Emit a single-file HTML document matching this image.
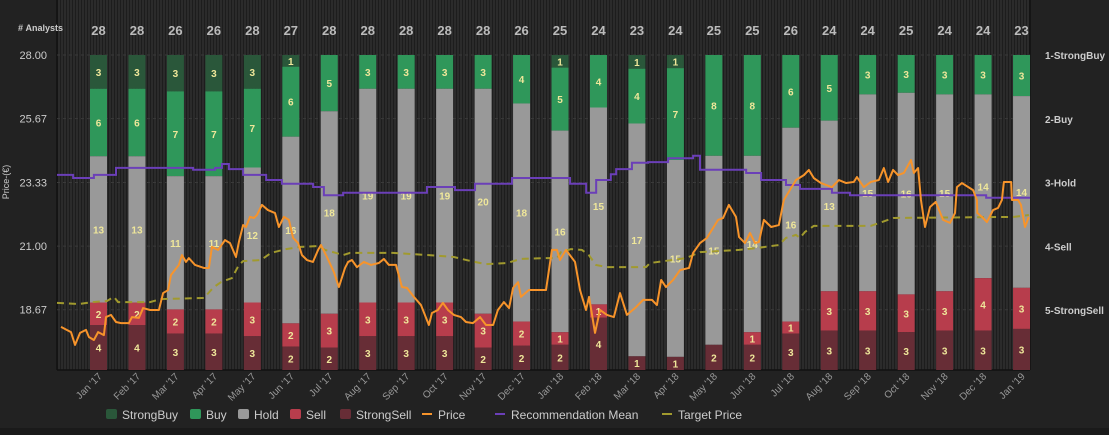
<!DOCTYPE html>
<html><head><meta charset="utf-8"><style>
html,body{margin:0;padding:0;background:#222;}
svg{display:block;font-family:"Liberation Sans",sans-serif;}
</style></head><body>
<svg id="chart" width="1109" height="435" viewBox="0 0 1109 435" xmlns="http://www.w3.org/2000/svg">
<defs>
<pattern id="stripes" width="3" height="10" patternUnits="userSpaceOnUse">
<rect width="3" height="10" fill="#2b2b2b"/><rect width="1" height="10" fill="#1d1d1d"/>
</pattern>
</defs>
<rect width="1109" height="435" fill="#222"/>
<rect x="0" y="428" width="1109" height="7" fill="#1a1a1a"/>
<rect x="57" y="0" width="973" height="370" fill="url(#stripes)"/>
<line x1="57" y1="0" x2="57" y2="370" stroke="#111" stroke-width="1.5"/>
<line x1="1030" y1="0" x2="1030" y2="370" stroke="#111" stroke-width="1.5"/>
<line x1="57" y1="370" x2="1030" y2="370" stroke="#111" stroke-width="1.5"/>
<text x="18" y="31" fill="#ccc" font-size="9" font-weight="bold">#&#160;Analysts</text>
<text transform="translate(9,182) rotate(-90)" text-anchor="middle" fill="#ccc" font-size="9">Price-(€)</text>
<g id="grid"></g><g id="bars"></g><g id="lines"></g><g id="axes"></g><g id="legend"></g>
</svg>
<script>
const months=["Jan '17","Feb '17","Mar '17","Apr '17","May '17","Jun '17","Jul '17","Aug '17","Sep '17","Oct '17","Nov '17","Dec '17","Jan '18","Feb '18","Mar '18","Apr '18","May '18","Jun '18","Jul '18","Aug '18","Sep '18","Oct '18","Nov '18","Dec '18","Jan '19"];
const strongBuy=[3,3,3,3,3,1,0,0,0,0,0,0,1,0,1,1,0,0,0,0,0,0,0,0,0];
const buy=[6,6,7,7,7,6,5,3,3,3,3,4,5,4,4,7,8,8,6,5,3,3,3,3,3];
const hold=[13,13,11,11,12,16,18,19,19,19,20,18,16,15,17,15,15,14,16,13,15,16,15,14,14];
const sell=[2,2,2,2,3,2,3,3,3,3,3,2,1,1,0,0,0,1,1,3,3,3,3,4,3];
const strongSell=[4,4,3,3,3,2,2,3,3,3,2,2,2,4,1,1,2,2,3,3,3,3,3,3,3];
const priceTicks=[28.00,25.67,23.33,21.00,18.67];
const recTicks=["1-StrongBuy","2-Buy","3-Hold","4-Sell","5-StrongSell"];
const priceT=[-0.975,-0.715,-0.61,-0.48,-0.325,-0.25,-0.12,-0.01,0.14,0.195,0.325,0.455,0.585,0.79,0.87,1.05,1.16,1.34,1.57,1.68,1.81,1.885,2.09,2.17,2.275,2.35,2.51,2.74,2.87,2.95,3.11,3.29,3.42,3.575,3.65,3.76,3.835,3.94,4.04,4.12,4.25,4.405,4.59,4.69,4.82,4.95,5.06,5.19,5.29,5.42,5.575,5.71,5.785,5.94,6.12,6.25,6.41,6.49,6.59,6.72,6.9,7.085,7.29,7.42,7.55,7.735,7.89,8.02,8.2,8.385,8.59,8.67,8.825,8.955,9.085,9.24,9.425,9.555,9.735,9.92,10.075,10.26,10.385,10.54,10.675,10.78,10.91,10.985,11.19,11.635,11.79,11.92,12.0,12.155,12.39,12.52,12.675,12.755,12.91,13.04,13.22,13.4,13.56,13.74,13.98,14.16,14.39,14.52,14.63,14.755,14.94,15.12,15.355,15.46,15.64,15.82,16.11,16.24,16.39,16.575,16.655,16.81,16.94,17.07,17.17,17.3,17.49,17.69,17.82,18.135,18.34,18.47,18.6,18.785,19.07,19.25,19.44,19.64,19.72,19.9,20.08,20.29,20.42,20.53,20.66,20.79,20.94,21.125,21.2,21.31,21.385,21.49,21.62,21.77,21.96,22.14,22.27,22.32,22.45,22.74,22.84,22.85,22.97,23.1,23.26,23.39,23.49,23.54,23.73,23.75,23.91,23.985,24.09,24.19];
const priceV=[18.04,17.85,17.38,17.82,17.93,17.67,17.56,17.85,17.74,18.40,18.48,18.22,18.18,18.18,18.40,18.37,18.73,18.66,18.66,19.28,19.39,19.94,20.31,20.67,20.42,20.56,20.31,20.20,20.20,20.97,20.86,21.22,21.11,20.60,21.15,21.77,21.70,22.07,22.03,22.14,22.51,22.32,22.21,21.70,22.07,21.96,21.30,21.11,20.67,20.49,20.42,20.86,21.04,20.60,20.05,19.50,20.20,20.42,20.49,20.23,20.42,20.31,20.38,20.53,20.31,20.31,19.50,19.47,19.14,18.84,18.11,18.55,18.66,18.92,18.66,18.48,18.40,18.22,18.18,18.40,18.11,18.11,18.66,18.95,18.73,19.47,19.68,19.14,19.39,19.39,20.86,20.86,20.49,20.86,20.42,19.39,18.66,19.14,17.82,18.66,18.48,18.40,19.28,18.48,18.77,19.03,19.03,18.84,19.76,19.50,19.76,20.12,20.20,20.75,21.11,21.30,21.96,22.03,22.51,22.07,21.33,21.11,21.48,21.11,21.15,21.96,21.70,21.77,22.69,23.42,23.60,23.79,23.49,23.31,23.16,23.42,23.31,23.35,23.53,23.16,23.35,23.42,23.86,23.35,23.79,23.60,23.68,24.15,23.68,23.86,22.69,21.70,22.43,22.62,21.96,21.85,22.21,23.16,23.31,23.05,22.69,22.21,22.07,21.88,22.32,22.40,22.69,23.35,23.35,22.69,22.69,22.51,21.70,22.07];
const targetT=[-1.08,-0.51,-0.14,0.22,0.40,0.51,1.34,1.625,2.74,3.0,3.185,3.47,3.65,3.76,4.225,4.485,4.875,5.24,5.71,5.89,6.175,6.36,6.54,7.66,8.59,9.24,9.685,10.075,10.62,10.985,11.555,11.92,12.025,12.285,12.57,12.75,12.935,13.22,14.235,14.34,15.275,15.64,16.655,17.12,17.69,17.875,18.135,18.24,18.37,18.6,20.08,20.37,20.66,23.8,24.19];
const targetV=[18.92,18.88,18.95,18.99,19.14,18.95,18.95,19.06,19.10,19.50,19.68,19.83,20.31,20.45,20.49,20.75,20.89,20.97,21.00,20.86,20.75,20.67,20.75,20.75,20.67,20.60,20.45,20.34,20.38,20.53,20.56,20.56,20.78,20.89,20.86,20.67,20.31,20.23,20.23,20.38,20.56,20.78,20.86,20.93,21.04,21.30,21.41,21.30,21.52,21.74,21.74,21.88,22.03,22.07,22.14];
const recT=[-1.08,-0.66,-0.12,0.455,2.46,3.03,3.21,3.39,3.76,4.36,4.77,5.58,5.86,6.36,8.54,9.27,9.79,10.75,12.26,12.68,12.94,13.32,13.46,13.87,14.29,14.81,15.46,15.64,16.84,17.23,17.875,18.24,19.07,19.54,23.08,24.22];
const recMean=[2.88,2.93,2.88,2.77,2.80,2.77,2.71,2.79,2.88,2.96,3.02,3.07,3.20,3.16,3.07,3.12,3.02,2.93,3.02,3.16,2.96,2.87,2.79,2.69,2.68,2.62,2.58,2.80,2.85,2.96,3.04,3.10,3.16,3.20,3.24,3.24];

const NS="http://www.w3.org/2000/svg";
const X0=98.5,DX=38.46,TOP=55,BOT=370,BW=17;
const xT=t=>X0+t*DX;
const yP=p=>TOP+(28-p)*27.3;
const yR=r=>TOP+(r-1)*63.75;
function mk(tag,attrs,parent,txt){const e=document.createElementNS(NS,tag);for(const k in attrs)e.setAttribute(k,attrs[k]);if(txt!==undefined)e.textContent=txt;parent.appendChild(e);return e;}
const grid=document.getElementById('grid'),bars=document.getElementById('bars'),lines=document.getElementById('lines'),axes=document.getElementById('axes'),legend=document.getElementById('legend');

priceTicks.forEach((p,i)=>{
  const y=yP(p);
  const g=mk('line',{x1:57,x2:1030,y1:y,y2:y,stroke:'#3a3a3a','stroke-dasharray':'3,3'},grid);
  
  
  const l=mk('text',{x:47,y:y+4,'text-anchor':'end',fill:'#ccc','font-size':11},axes,p.toFixed(2));
  
  
});
recTicks.forEach((s,i)=>{
  const r=mk('text',{x:1045,y:yR(i+1)+4,fill:'#ccc','font-size':10,'font-weight':'bold'},axes,s);
  
  
});

const series=[[strongBuy,'#2a573a'],[buy,'#2f975a'],[hold,'#999999'],[sell,'#b73d4c'],[strongSell,'#672d36']];
months.forEach((m,i)=>{
  const total=series.reduce((a,s)=>a+s[0][i],0);
  const cx=xT(i);
  let y=TOP;
  series.forEach(([arr,col])=>{
    const v=arr[i];
    const h=v/total*(BOT-TOP);
    if(v>0){
      const r=mk('rect',{x:cx-BW/2,y:y,width:BW,height:h,fill:col},bars);
      
      
      const t=mk('text',{x:cx,y:y+h/2+4,'text-anchor':'middle',fill:'#efe79a','font-size':10,'font-weight':'bold'},bars,String(v));
      
      
    }
    y+=h;
  });
  const c=mk('text',{x:cx,y:35,'text-anchor':'middle',fill:'#bbb','font-size':13,'font-weight':'bold'},axes,String(total));
  
  
  const xl=mk('text',{transform:`translate(${cx+4},${377}) rotate(-45)`,'text-anchor':'end',fill:'#999','font-size':10},axes,m);
  
  
});

let d='';
recT.forEach((t,i)=>{const x=xT(t),y=yR(recMean[i]);if(i===0)d+=`M${x},${y}`;else d+=`H${x}V${y}`;});
const rl=mk('path',{d:d,fill:'none',stroke:'#6b3fb8','stroke-width':2},lines);



const tp=mk('path',{d:targetT.map((t,i)=>(i?'L':'M')+xT(t)+','+yP(targetV[i])).join(''),fill:'none',stroke:'#a19a2e','stroke-width':2,'stroke-dasharray':'7,5'},lines);



const pl=mk('path',{d:priceT.map((t,i)=>(i?'L':'M')+xT(t)+','+yP(priceV[i])).join(''),fill:'none',stroke:'#f7942b','stroke-width':2,'stroke-linejoin':'round'},lines);



const leg=[['StrongBuy','#2a573a','box',106],['Buy','#2f975a','box',190],['Hold','#999999','box',238],['Sell','#b73d4c','box',290],['StrongSell','#672d36','box',340],['Price','#f7942b','line',422],['Recommendation Mean','#6b3fb8','line',495],['Target Price','#a19a2e','line',662]];
leg.forEach(([n,c,k,x])=>{
  const g=mk('g',{},legend);
  
  
  if(k==='box')mk('rect',{x:x,y:409,width:11,height:10,rx:2,fill:c},g);
  else mk('rect',{x:x,y:413,width:10,height:2,fill:c},g);
  mk('text',{x:x+16,y:419,fill:'#ccc','font-size':12},g,n);
});
</script>
</body></html>
